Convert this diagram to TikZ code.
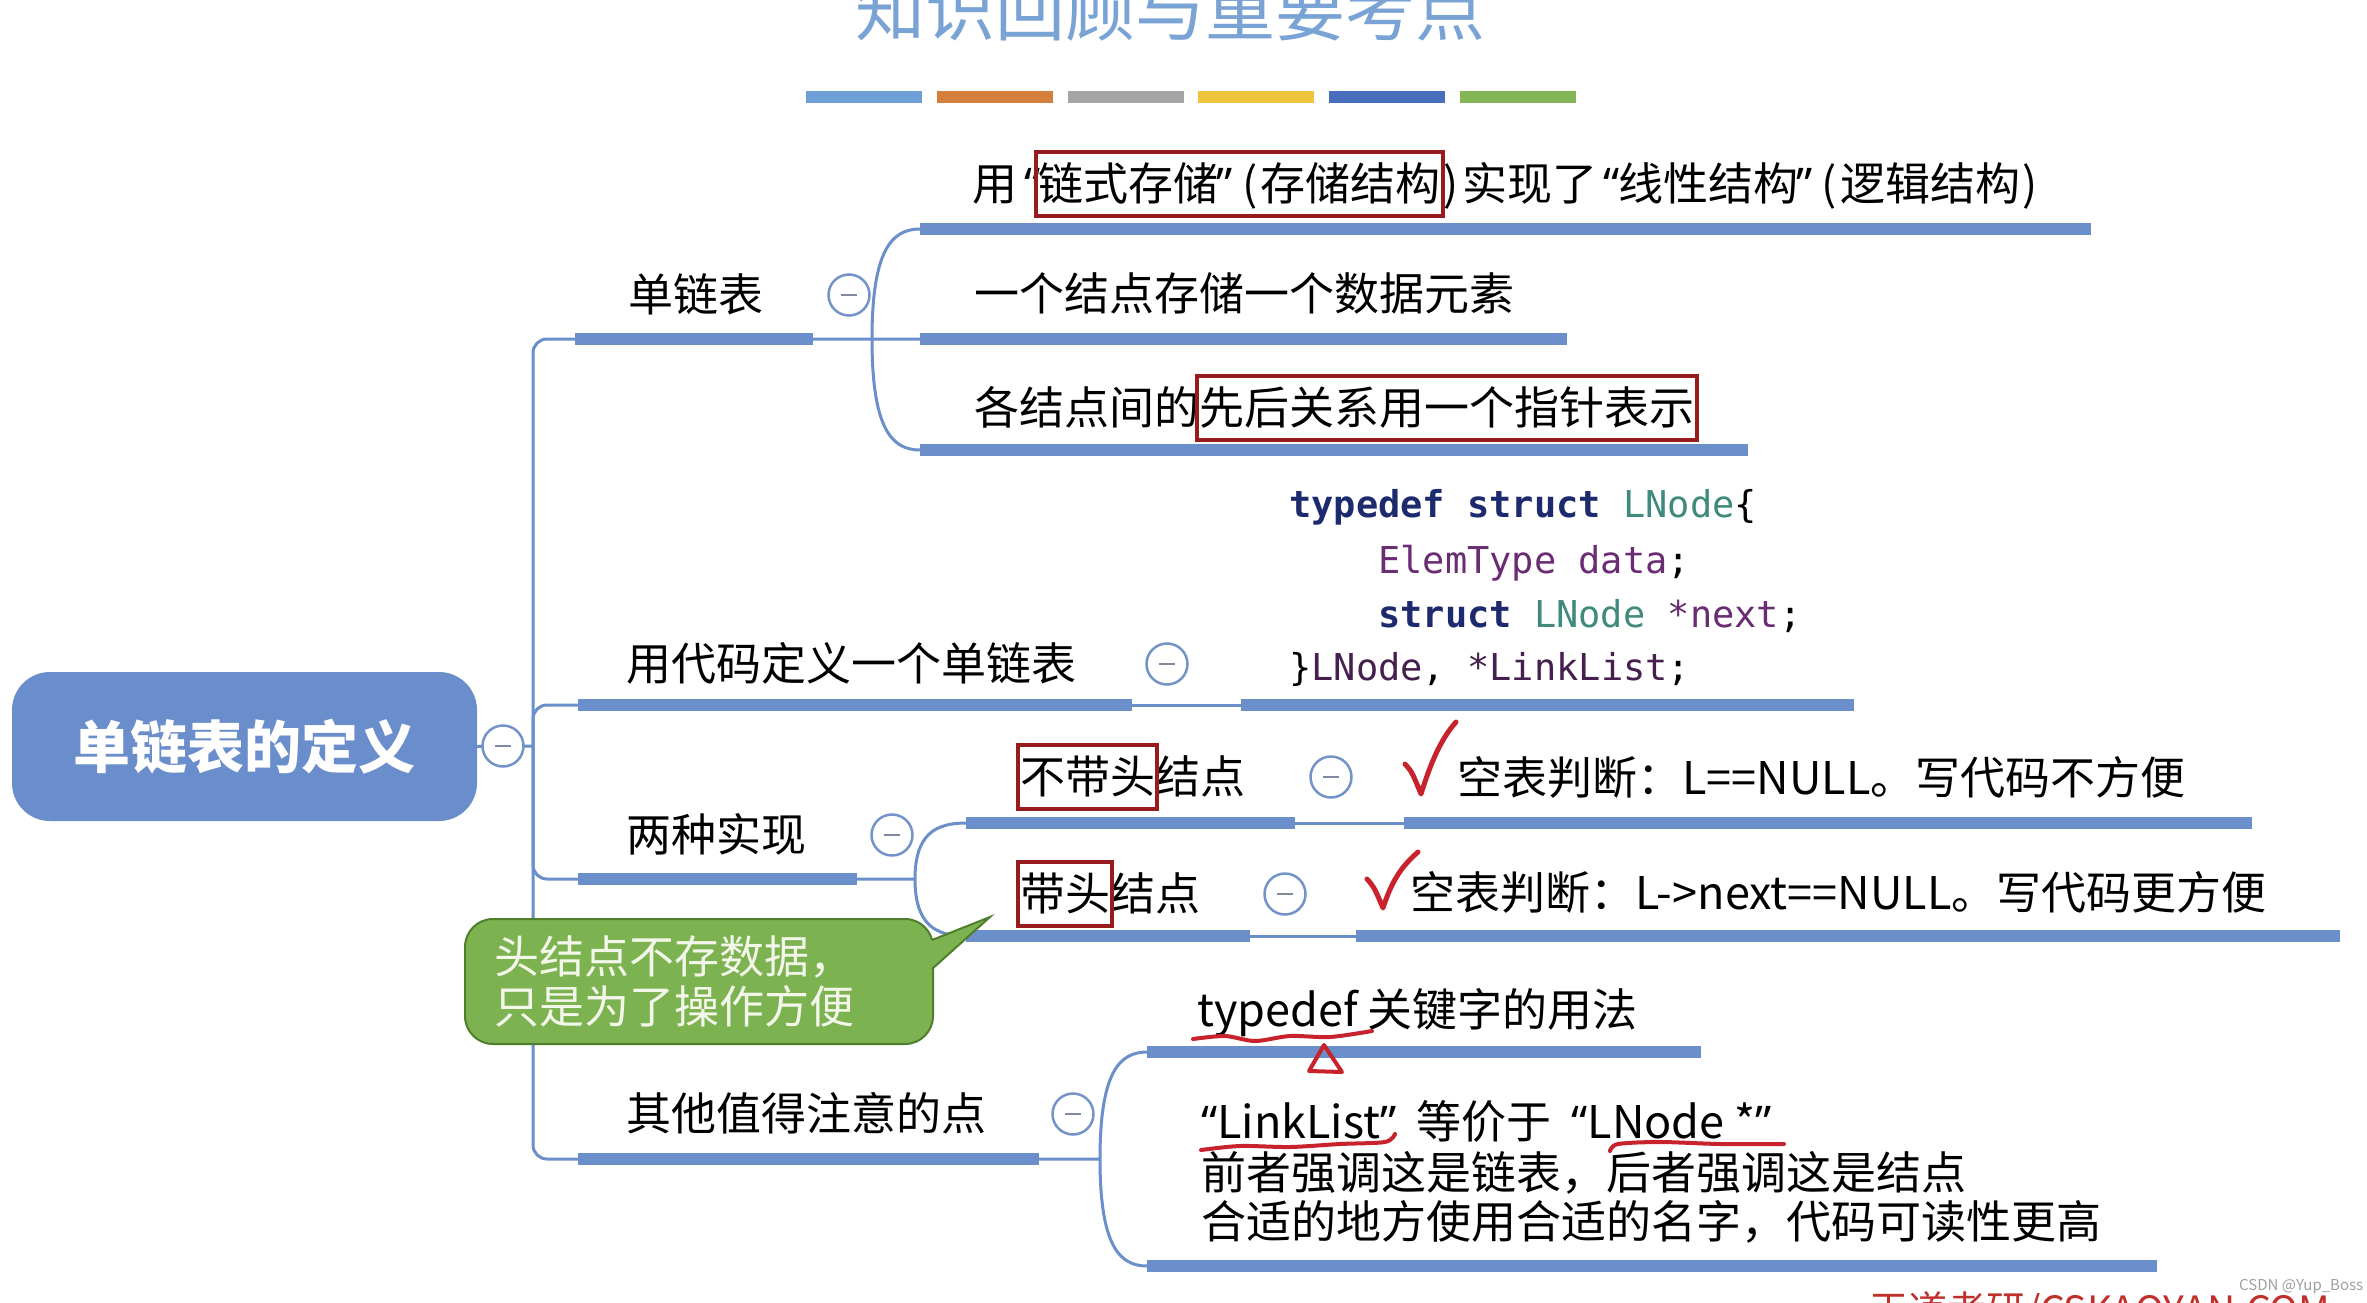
\documentclass[tikz,border=0pt]{standalone}
\usepackage{fontspec}
\setmainfont{Noto Sans CJK SC}
\newfontfamily\quotefont{Noto Sans}
\newfontfamily\codefont{DejaVu Sans Mono}
\usetikzlibrary{positioning,fit,calc}

\definecolor{mmblue}{HTML}{6B8FCB}
\definecolor{rootblue}{HTML}{6A8DCB}
\definecolor{foldline}{HTML}{7393C9}
\definecolor{foldmark}{HTML}{7F8AA0}
\definecolor{boxred}{HTML}{981B1E}
\definecolor{inkred}{HTML}{C8232C}
\definecolor{notegreen}{HTML}{7DB250}
\definecolor{noteedge}{HTML}{4F7F2D}
\definecolor{notetext}{HTML}{F2F7EA}
\definecolor{titleblue}{HTML}{7AA3D5}
\definecolor{kwblue}{HTML}{1E2A6E}
\definecolor{typeteal}{HTML}{3F8A7C}
\definecolor{varpurple}{HTML}{6A2C72}
\definecolor{idpurple}{HTML}{45204F}
\definecolor{barA}{HTML}{6F9FD8}
\definecolor{barB}{HTML}{D57F3C}
\definecolor{barC}{HTML}{A5A5A5}
\definecolor{barD}{HTML}{EEC43F}
\definecolor{barE}{HTML}{4A6EBE}
\definecolor{barF}{HTML}{84B557}
\definecolor{wmred}{HTML}{C0302A}
\definecolor{wmgray}{HTML}{A0A0A0}

\newcommand\oq{{\quotefont “}}
\newcommand\cq{{\quotefont ”}}
\newcommand\oqw{\makebox[21pt][r]{\quotefont “\hspace{-2pt}}}
\newcommand\cqw{\makebox[21pt][l]{\hspace{-2pt}\quotefont ”}}
\newcommand\opw{\makebox[21pt]{(}}
\newcommand\cpw{\makebox[21pt]{)}}
\newcommand\topicsize{\fontsize{45pt}{50pt}\selectfont}

\tikzset{
  thinlink/.style={draw=mmblue, line width=3pt},
  branchbar/.style={draw=mmblue, line width=12pt},
  fanto/.style={to path={.. controls ($(\tikztostart)!0.8!(\tikztostart|-\tikztotarget)$) and ($(\tikztostart|-\tikztotarget)!0.4!(\tikztotarget)$) .. (\tikztotarget)}},
  topic/.style={anchor=west, inner sep=0pt, text height=39pt, text depth=6pt, font=\topicsize},
  foldbtn/.style={circle, draw=foldline, line width=2.5pt, fill=white, minimum size=41pt, inner sep=0pt,
    path picture={\draw[foldmark, line width=2.5pt] ([xshift=-8pt]path picture bounding box.center) -- ([xshift=8pt]path picture bounding box.center);}},
  redbox/.style={draw=boxred, line width=4pt, inner xsep=2pt, inner ysep=9pt},
  codeline/.style={anchor=west, inner sep=0pt, text height=28pt, text depth=8pt, font=\codefont\fontsize{37pt}{54pt}\selectfont},
  okmark/.style={draw=inkred, line width=5pt, line cap=round, line join=round},
  ink/.style={draw=inkred, line width=4pt, line cap=round, line join=round},
}

\begin{document}
\begin{tikzpicture}[x=1pt, y=-1pt]
\path[use as bounding box, fill=white] (0,0) rectangle (2367,1303);

% title and colour strip
\node[anchor=base, inner sep=0pt, text=titleblue, font=\fontsize{70pt}{70pt}\selectfont] (title) at (1170,36) {知识回顾与重要考点};
\foreach \col [count=\i from 0] in {barA,barB,barC,barD,barE,barF}
  \fill[\col] ({806+\i*130.8},91) rectangle ++(116,12);

% root
\node[fill=rootblue, rounded corners=38pt, minimum width=465pt, minimum height=149pt, text=white,
  font=\bfseries\fontsize{57pt}{60pt}\selectfont] (root) at (244.5,746.5) {单链表的定义};

% bar ends
\foreach \n/\xa/\xb/\y in {g1/575/813/339, g2/578/1132/705, g3/578/857/879, g4/578/1039/1159,
    c1a/920/2091/229, c1b/920/1567/339, c1c/920/1748/450, code/1241/1854/705,
    c3a/966/1295/823, e3a/1404/2252/823, c3b/966/1250/936, e3b/1356/2340/936,
    c4a/1147/1701/1052, c4b/1147/2157/1266} {
  \coordinate (\n s) at (\xa,\y);
  \coordinate (\n e) at (\xb,\y);
}
\coordinate (trunk) at (533,746);
\coordinate (fan1) at (872,339);
\coordinate (fan3) at (915,879);
\coordinate (fan4) at (1100,1159);

% connectors
\draw[thinlink] (root.east) -- (trunk);
\draw[thinlink, rounded corners=14pt] (g1s) -| (trunk) |- (g4s);
\draw[thinlink, rounded corners=14pt] (trunk) |- (g2s);
\draw[thinlink, rounded corners=14pt] (trunk) |- (g3s);
\draw[thinlink] (g1e) -- (fan1) (fan1) to[fanto] (c1as) (fan1) -- (c1bs) (fan1) to[fanto] (c1cs);
\draw[thinlink] (g2e) -- (codes);
\draw[thinlink] (g3e) -- (fan3) (fan3) to[fanto] (c3as) (fan3) to[fanto] (c3bs);
\draw[thinlink] (c3ae) -- (e3as) (c3be) -- (e3bs);
\draw[thinlink] (g4e) -- (fan4) (fan4) to[fanto] (c4as) (fan4) to[fanto] (c4bs);

\foreach \n in {g1,g2,g3,g4,c1a,c1b,c1c,code,c3a,e3a,c3b,e3b,c4a,c4b}
  \draw[branchbar] (\n s) -- (\n e);

\foreach \n/\x/\y in {fold0/503/746, fold1/849/295, fold2/1167/664, fold3/892/835,
    fold3a/1331/777, fold3b/1285/894, fold4/1073/1114}
  \node[foldbtn] (\n) at (\x,\y) {};

% first level
\node[topic] (g1t) at (628,295) {单链表};
\node[topic] (g2t) at (626,664) {用代码定义一个单链表};
\node[topic] (g3t) at (626,835) {两种实现};
\node[topic] (g4t) at (626,1114) {其他值得注意的点};

% single linked list
\node[topic] (t1a1) at (972,184) {用\oqw};
\node[topic, right=0pt of t1a1] (t1a2) {链式存储\cqw\opw 存储结构};
\node[topic, right=0pt of t1a2] (t1a3) {\cpw 实现了\oqw 线性结构\cqw\opw 逻辑结构\cpw};
\node[topic] (t1b) at (974,294) {一个结点存储一个数据元素};
\node[topic] (t1c1) at (974,408) {各结点间的};
\node[topic, right=0pt of t1c1] (t1c2) {先后关系用一个指针表示};
\node[redbox, fit=(t1a2)] (hl1) {};
\node[redbox, fit=(t1c2)] (hl2) {};

% code
\node[codeline] (code1) at (1289,507) {{\bfseries\color{kwblue}typedef struct} {\color{typeteal}LNode}\{};
\node[codeline] (code2) at (1378,563) {{\color{varpurple}ElemType data};};
\node[codeline] (code3) at (1378,617) {{\bfseries\color{kwblue}struct} {\color{typeteal}LNode} {\color{varpurple}*next};};
\node[codeline] (code4) at (1289,670) {\}{\color{idpurple}LNode}, {\color{idpurple}*LinkList};};

% two ways
\node[topic] (t3a1) at (1020,777) {不带头};
\node[topic, right=0pt of t3a1] (t3a2) {结点};
\node[topic] (t3b1) at (1020,894) {带头};
\node[topic, right=0pt of t3b1] (t3b2) {结点};
\node[redbox, fit=(t3a1)] (hl3) {};
\node[redbox, fit=(t3b1)] (hl4) {};
\draw[okmark] (1405,764) .. controls (1412,772) .. (1421,794) .. controls (1430,765) and (1440,740) .. (1456,722);
\node[topic] (e3at) at (1457,778) {空表判断：L==NULL。写代码不方便};
\draw[okmark] (1367,879) .. controls (1374,887) .. (1383,908) .. controls (1392,880) and (1402,866) .. (1418,852);
\node[topic] (e3bt) at (1410,893) {空表判断：L->next==NULL。写代码更方便};

% note
\node[fill=notegreen, draw=noteedge, line width=2pt, rounded corners=28pt, minimum width=468pt,
  minimum height=125pt, text width=410pt, align=left, text=notetext, font=\topicsize] (note) at (699,981.5)
  {头结点不存数据，\\只是为了操作方便};
\coordinate (notetip) at (990,917);
\coordinate (noteb1) at (932,940);
\coordinate (noteb2) at (932,969);
\fill[notegreen] (noteb1) ++(-6,0) -- (noteb1) -- (notetip) -- (noteb2) -- ++(-6,0) -- cycle;
\draw[noteedge, line width=2pt] (noteb1) -- (notetip) -- (noteb2);

% other points
\node[topic] (c4at) at (1197,1010) {typedef 关键字的用法};
\node[topic] (c4bt1) at (1201,1122) {\oq LinkList\cq\hspace{20pt}等价于\hspace{20pt}\oq LNode *\cq};
\node[topic] (c4bt2) at (1201,1173) {前者强调这是链表，后者强调这是结点};
\node[topic] (c4bt3) at (1201,1222) {合适的地方使用合适的名字，代码可读性更高};
\draw[ink] plot[smooth] coordinates {(1193,1039) (1225,1036) (1255,1041) (1290,1036) (1330,1037) (1372,1031)};
\draw[ink] (1324,1045) -- (1309,1071) -- (1342,1072) -- cycle;
\draw[ink] plot[smooth] coordinates {(1201,1150) (1240,1146) (1290,1147) (1340,1144) (1385,1142) (1395,1134)};
\draw[ink] plot[smooth] coordinates {(1610,1151) (1618,1144) (1660,1142) (1720,1144) (1784,1144)};

% marks at the bottom
\node[anchor=base west, inner sep=0pt, text=wmred, font=\fontsize{39pt}{40pt}\selectfont] (brand) at (1869,1324) {王道考研/CSKAOYAN.COM};
\node[anchor=west, inner sep=0pt, text=wmgray, font=\fontsize{15pt}{16pt}\selectfont] (csdn) at (2239,1287) {CSDN @Yup\_Boss};
\end{tikzpicture}
\end{document}
